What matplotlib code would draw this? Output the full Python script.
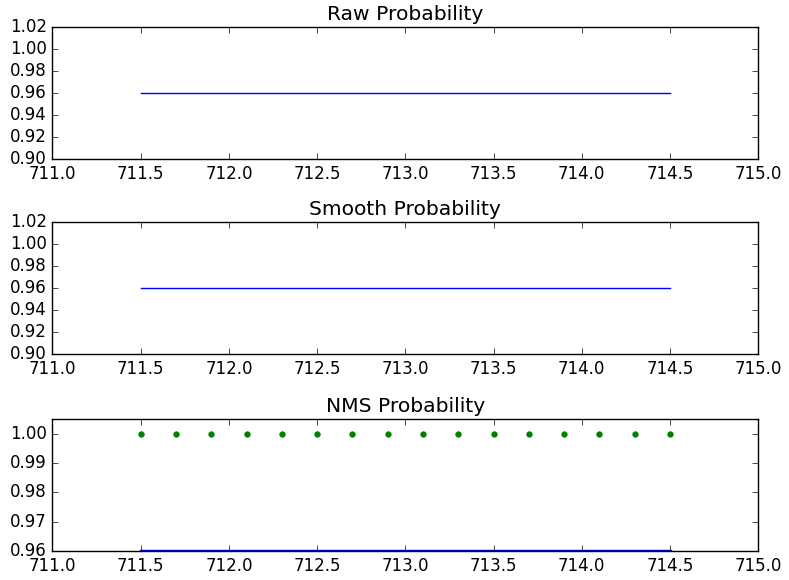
import matplotlib
matplotlib.use('Agg')
import matplotlib.pyplot as plt

# frame positions (s) and probabilities
frames = [711.5, 711.7, 711.9, 712.1, 712.3, 712.5, 712.7, 712.9,
          713.1, 713.3, 713.5, 713.7, 713.9, 714.1, 714.3, 714.5]
raw_prob = [0.96] * 16
smooth_prob = [0.96] * 16
nms_prob = [1.0] * 16

titles = ['Raw Probability', 'Smooth Probability', 'NMS Probability']

plt.style.use('classic')
plt.rcParams['font.family'] = ['DejaVu Sans']

fig = plt.figure(figsize=(7.89, 5.80), dpi=100)
fig.patch.set_facecolor('white')

left, width, height = 0.0665, 0.8945, 0.2276
bottoms = [0.7259, 0.3897, 0.05]

axes = [fig.add_axes([left, b, width, height]) for b in bottoms]

axes[0].plot(frames, raw_prob, 'b-')
axes[0].set_ylim(0.90, 1.02)

axes[1].plot(frames, smooth_prob, 'b-')
axes[1].set_ylim(0.90, 1.02)

axes[2].plot(frames, smooth_prob, 'b-', linewidth=2.5)
axes[2].plot(frames, nms_prob, 'g.', markersize=8)
axes[2].set_ylim(0.96, 1.005)
axes[2].set_yticks([0.96, 0.97, 0.98, 0.99, 1.00])

for ax, t in zip(axes, titles):
    ax.set_xlim(711.0, 715.0)
    ax.set_title(t, fontsize=14.6)
    ax.tick_params(labelsize=12)
    ax.ticklabel_format(useOffset=False, axis='both')

fig.savefig('out.png', dpi=100, facecolor='white')
